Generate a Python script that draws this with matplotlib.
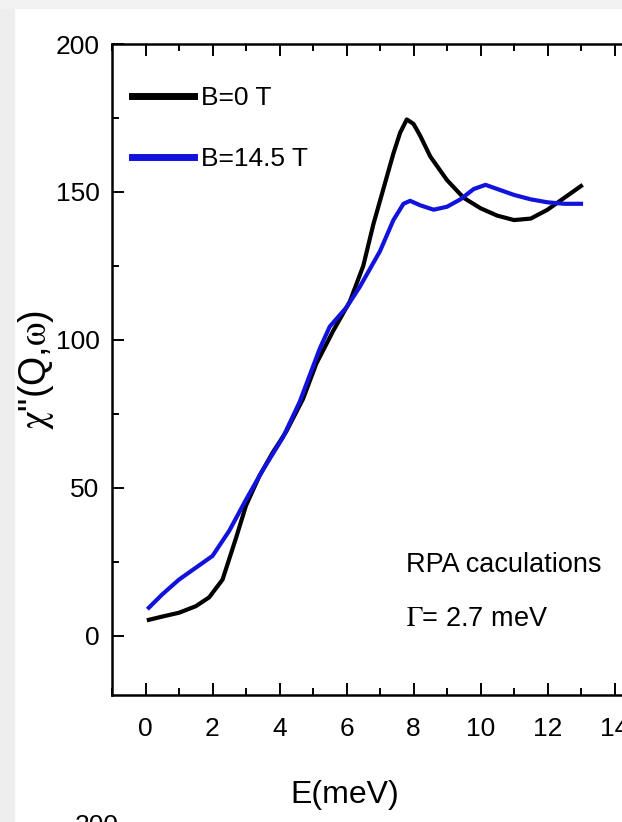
import matplotlib
matplotlib.use('Agg')
import matplotlib.pyplot as plt
from matplotlib.patches import Rectangle
from matplotlib.ticker import MultipleLocator

# energy (meV) and chi'' values
e_b0 = [0.1, 0.5, 1.0, 1.5, 1.9, 2.3, 2.7, 3.0, 3.4, 3.8, 4.2, 4.7, 5.1, 5.6, 6.1,
        6.5, 6.8, 7.1, 7.4, 7.6, 7.8, 8.0, 8.2, 8.5, 9.0, 9.5, 10.0, 10.5, 11.0,
        11.5, 12.0, 12.5, 13.0]
chi_b0 = [5.4, 6.5, 7.8, 10, 13, 19, 33, 44, 54, 62, 69, 80, 92, 103, 113,
          125, 139, 151, 163, 170, 174.5, 173, 169, 162, 154, 148, 144.5, 142, 140.5,
          141, 144, 148, 152]

e_b145 = [0.1, 0.5, 1.0, 1.5, 2.0, 2.5, 3.0, 3.5, 4.1, 4.6, 5.2, 5.5, 6.0, 6.4,
          7.0, 7.4, 7.7, 7.9, 8.2, 8.6, 9.0, 9.4, 9.8, 10.15, 10.5, 11.0, 11.5,
          12.0, 12.5, 13.0]
chi_b145 = [9.5, 14, 19, 23, 27, 35.5, 46, 56, 67, 79, 97, 104.5, 111, 118,
            130, 140.5, 146, 147, 145.5, 144, 145, 147.5, 151, 152.4, 151, 149, 147.5,
            146.5, 146, 146]

labels = ['B=0 T', 'B=14.5 T']

plt.rcParams['font.family'] = ['Liberation Sans', 'DejaVu Sans']
plt.rcParams['mathtext.fontset'] = 'stix'

fig = plt.figure(figsize=(6.22, 8.22), dpi=100)
# faint grey border of the slide
fig.patches.append(Rectangle((0, 0), 0.022, 1, transform=fig.transFigure,
                             color='#eeeeee', zorder=-5))
fig.patches.append(Rectangle((0, 0.99), 1, 0.01, transform=fig.transFigure,
                             color='#f2f2f2', zorder=-5))

W, H = 622, 822
ax = fig.add_axes([112 / W, 1 - 695 / H, 536 / W, 651 / H])

ax.plot(e_b0, chi_b0, color='black', lw=3, label=labels[0])
ax.plot(e_b145, chi_b145, color='#1212dd', lw=3, label=labels[1])

ax.set_xlim(-1, 15)
ax.set_ylim(-20, 200)
ax.xaxis.set_major_locator(MultipleLocator(2))
ax.xaxis.set_minor_locator(MultipleLocator(1))
ax.yaxis.set_major_locator(MultipleLocator(50))
ax.yaxis.set_minor_locator(MultipleLocator(25))
ax.tick_params(which='both', direction='in', top=True, right=False, width=1.4)
ax.tick_params(which='major', length=8.5)
ax.tick_params(which='minor', length=5)
ax.tick_params(axis='x', which='major', labelsize=19, pad=16)
ax.tick_params(axis='y', which='major', labelsize=19, pad=9)
for s in ax.spines.values():
    s.set_linewidth(1.8)

ax.set_xlabel('E(meV)', fontsize=23)
ax.xaxis.set_label_coords(0.435, -0.13)
fig.text(36 / W, 1 - 370 / H, r'$\mathrm{\chi}$"(Q,$\mathrm{\omega}$)', fontsize=27,
         rotation=90, ha='center', va='center')

leg = ax.legend(loc='upper left', bbox_to_anchor=(0.038, 0.935), frameon=False,
                fontsize=19, handlelength=2.35, handletextpad=0.25, labelspacing=1.4,
                borderpad=0, borderaxespad=0)
for line in leg.get_lines():
    line.set_linewidth(5)

ax.text(0.548, 0.2, 'RPA caculations', transform=ax.transAxes, fontsize=19.5,
        va='center', ha='left')
ax.text(0.548, 0.117, r'$\Gamma$= 2.7 meV', transform=ax.transAxes, fontsize=19.5,
        va='center', ha='left')

# edge of the next figure peeking in at the bottom
fig.text(75 / W, 1 - 814 / H, '200', fontsize=19, va='top', ha='left')

fig.savefig('out.png', dpi=100)
